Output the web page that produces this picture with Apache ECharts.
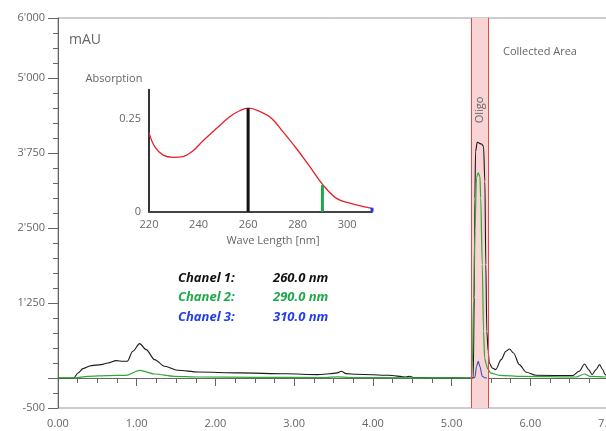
<!DOCTYPE html>
<html lang="en">
<head>
    <meta charset="UTF-8">
    <title>Chromatogram</title>
    <style>
        html, body { margin: 0; padding: 0; background: #fff; }
    </style>
</head>
<body>
    <div id="main" style="width:606px; height:431px;"></div>
    <script src="https://cdn.jsdelivr.net/npm/echarts@6/dist/echarts.min.js"></script>
    <script>
// chromatogram traces (time in min, mAU)
var blackTime = [0, 0.2, 0.254, 0.317, 0.423, 0.55, 0.635, 0.74, 0.825, 0.88, 0.95, 1.037, 1.12, 1.227, 1.354, 1.52, 1.78, 2.3, 2.9, 3.3, 3.45, 3.55, 3.6, 3.66, 3.8, 4.2, 4.42, 4.47, 4.52, 4.8, 5.25,
    5.275, 5.288, 5.296, 5.305, 5.326, 5.38, 5.406, 5.423, 5.435, 5.448, 5.465, 5.48, 5.516, 5.56, 5.63, 5.69, 5.736, 5.787, 5.86, 5.95, 6.07, 6.54, 6.62, 6.69, 6.74, 6.785, 6.836, 6.88, 6.92, 6.95, 7.0];
var blackVal = [0, 0, 83, 157, 207, 223, 250, 290, 278, 278, 445, 573, 473, 307, 195, 128, 100, 85, 70, 57, 70, 85, 112, 73, 62, 45, 17, 28, 8, 3, 0,
    0, 1333, 3000, 3778, 3928, 3900, 3862, 3278, 1890, 778, 445, 250, 167, 140, 307, 445, 483, 417, 223, 95, 45, 40, 112, 233, 140, 57, 140, 223, 140, 57, 20];

var greenTime = [0, 0.21, 0.38, 0.635, 0.867, 1.037, 1.227, 1.48, 1.78, 2.5, 3.4, 3.55, 3.7, 4.5, 5.25, 5.265, 5.28, 5.296, 5.317, 5.338, 5.36, 5.37, 5.39, 5.406, 5.42, 5.44, 5.46, 5.5, 5.61, 5.9, 6.58, 6.69, 6.76, 6.95, 7.0];
var greenVal = [0, 0, 28, 40, 45, 128, 67, 28, 17, 12, 8, 20, 8, 3, 0, 250, 1300, 2450, 3340, 3420, 3360, 3000, 1890, 780, 333, 230, 150, 80, 45, 28, 17, 67, 28, 17, 15];

var blueTime = [5.27, 5.296, 5.317, 5.338, 5.36, 5.39, 5.42, 5.45];
var blueVal = [0, 10, 190, 280, 190, 30, 5, 0];

// collected fraction
var bandStart = 5.245;
var bandEnd = 5.475;

// absorption spectrum (nm, absorption)
var specWave = [220, 222.3, 225.7, 229.7, 233.7, 237.8, 241.8, 247.2, 252.6, 256.6, 260.3, 264.7, 269.4, 274.1, 279.5, 284.9, 290.3, 295.7, 301.1, 306.5, 310];
var specAbs = [0.214, 0.176, 0.153, 0.147, 0.149, 0.165, 0.192, 0.225, 0.257, 0.273, 0.28, 0.271, 0.253, 0.216, 0.171, 0.122, 0.072, 0.036, 0.023, 0.014, 0.009];

// detection channels
var chanNames = ['Chanel 1:', 'Chanel 2:', 'Chanel 3:'];
var chanWave = [260, 290, 310];
var chanAbs = [0.28, 0.072, 0.011];
var chanColors = ['#111111', '#1ea84a', '#1f3cf0'];

// tick labels
var yLabelVals = [-500, 1250, 2500, 3750, 5000, 6000];
var yMajorTicks = [-500, 0, 1250, 2500, 3750, 5000, 6000];
var insetXLabels = [220, 240, 260, 280, 300];
var insetYLabels = [0, 0.25];

var FONT = '"Open Sans", "Noto Sans", sans-serif';
var GREY = '#666';

function zip(xs, ys) {
    var res = [];
    for (var i = 0; i < xs.length; i++) res.push([xs[i], ys[i]]);
    return res;
}

function fmtThousand(v) {
    var s = String(Math.abs(v));
    if (s.length > 3) s = s.slice(0, s.length - 3) + "'" + s.slice(s.length - 3);
    return (v < 0 ? '-' : '') + s;
}

var chart = echarts.init(document.getElementById('main'));

var series = [
    {
        name: 'black', type: 'line', xAxisIndex: 0, yAxisIndex: 0,
        data: zip(blackTime, blackVal), showSymbol: false, smooth: 0.3, smoothMonotone: 'x',
        lineStyle: { color: '#1a1a1a', width: 1.1 }, z: 3,
        markArea: {
            silent: true,
            itemStyle: { color: '#f8d4d4' },
            data: [[{ xAxis: bandStart }, { xAxis: bandEnd }]]
        },
        markLine: {
            silent: true, symbol: 'none', label: { show: false },
            lineStyle: { color: '#e34848', width: 1, type: 'solid' },
            data: [{ xAxis: bandStart }, { xAxis: bandEnd }]
        }
    },
    {
        name: 'green', type: 'line', xAxisIndex: 0, yAxisIndex: 0,
        data: zip(greenTime, greenVal), showSymbol: false, smooth: 0.3, smoothMonotone: 'x',
        lineStyle: { color: '#2ea836', width: 1.2 }, z: 4
    },
    {
        name: 'blue', type: 'line', xAxisIndex: 0, yAxisIndex: 0,
        data: zip(blueTime, blueVal), showSymbol: false, smooth: 0.3, smoothMonotone: 'x',
        lineStyle: { color: '#3a50c0', width: 1.1 }, z: 5
    },
    {
        name: 'spectrum', type: 'line', xAxisIndex: 1, yAxisIndex: 2,
        data: zip(specWave, specAbs), showSymbol: false, smooth: 0.4,
        lineStyle: { color: '#e5202a', width: 1.3 }, z: 3
    }
];

for (var i = 0; i < chanWave.length; i++) {
    series.push({
        name: chanNames[i], type: 'line', xAxisIndex: 1, yAxisIndex: 2,
        data: [[chanWave[i], 0], [chanWave[i], chanAbs[i]]],
        showSymbol: false,
        lineStyle: { color: chanColors[i], width: 3, cap: 'butt' }, z: 4
    });
}

var graphics = [
    { type: 'text', x: 69, y: 40, style: { text: 'mAU', fill: GREY, font: '14px ' + FONT, verticalAlign: 'middle' } },
    { type: 'text', x: 503, y: 52, style: { text: 'Collected Area', fill: GREY, font: '11px ' + FONT, verticalAlign: 'middle' } },
    { type: 'text', x: 480, y: 110, rotation: Math.PI / 2, style: { text: 'Oligo', fill: GREY, font: '11px ' + FONT, align: 'center', verticalAlign: 'middle' } },
    { type: 'text', x: 114, y: 79, style: { text: 'Absorption', fill: GREY, font: '11px ' + FONT, align: 'center', verticalAlign: 'middle' } },
    { type: 'text', x: 273, y: 241, style: { text: 'Wave Length [nm]', fill: GREY, font: '11px ' + FONT, align: 'center', verticalAlign: 'middle' } }
];
var rowY = [278, 297.5, 317];
for (var j = 0; j < chanNames.length; j++) {
    graphics.push({ type: 'text', x: 178, y: rowY[j], style: { text: chanNames[j], fill: chanColors[j], font: 'italic bold 13px ' + FONT, verticalAlign: 'middle' } });
    graphics.push({ type: 'text', x: 273, y: rowY[j], style: { text: chanWave[j].toFixed(1) + ' nm', fill: chanColors[j], font: 'italic bold 13px ' + FONT, verticalAlign: 'middle' } });
}
for (var k = 0; k < graphics.length; k++) graphics[k].z = 100;

chart.setOption({
    animation: false,
    grid: [
        { left: 58, top: 18, width: 551, height: 390, outerBoundsMode: 'none', containLabel: false, show: true, borderColor: '#999', borderWidth: 1 },
        { left: 149, top: 89.7, width: 223, height: 122, outerBoundsMode: 'none', containLabel: false }
    ],
    xAxis: [
        {
            gridIndex: 0, type: 'value', min: 0, max: 7, interval: 1,
            axisLine: { lineStyle: { color: '#666', width: 1 } },
            axisTick: { length: 8, lineStyle: { color: '#666' } },
            minorTick: { show: true, splitNumber: 4, length: 5, lineStyle: { color: '#666' } },
            splitLine: { show: false },
            axisLabel: { color: GREY, fontSize: 11, fontFamily: FONT, margin: 10, formatter: function (v) { return v.toFixed(2); } }
        },
        {
            gridIndex: 1, type: 'value', min: 220, max: 310, interval: 20,
            axisLine: { lineStyle: { color: '#444', width: 2 } },
            axisTick: { show: false },
            splitLine: { show: false },
            axisLabel: { color: GREY, fontSize: 11, fontFamily: FONT, margin: 8, customValues: insetXLabels }
        }
    ],
    yAxis: [
        {
            gridIndex: 0, type: 'value', position: 'left', min: -500, max: 6000, interval: 250,
            axisLine: { show: true, lineStyle: { color: '#666', width: 1 } },
            axisTick: { show: true, length: 5, lineStyle: { color: '#666' } },
            axisLabel: { show: false },
            splitLine: { show: false }
        },
        {
            gridIndex: 0, type: 'value', position: 'left', offset: 0, min: -500, max: 6000, interval: 250,
            axisLine: { show: false },
            axisTick: { show: true, length: 10, customValues: yMajorTicks, lineStyle: { color: '#666' } },
            axisLabel: { color: GREY, fontSize: 11, fontFamily: FONT, margin: 13, customValues: yLabelVals, formatter: fmtThousand },
            splitLine: { show: false }
        },
        {
            gridIndex: 1, type: 'value', min: 0, max: 0.33,
            axisLine: { show: true, lineStyle: { color: '#111', width: 1.7 } },
            axisTick: { show: false },
            axisLabel: { color: GREY, fontSize: 11, fontFamily: FONT, margin: 8, customValues: insetYLabels },
            splitLine: { show: false }
        }
    ],
    series: series,
    graphic: graphics
});
    </script>
</body>
</html>
